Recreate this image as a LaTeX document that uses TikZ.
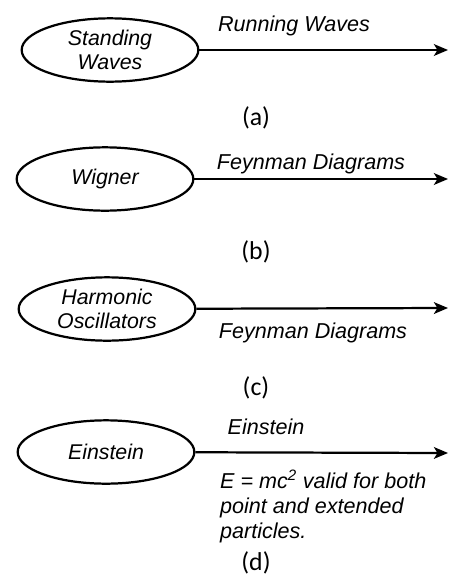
\documentclass[tikz,border=0pt]{standalone}
\usepackage{fontspec}
\newfontfamily\arialfont{Liberation Sans}
\newfontfamily\capfont{Carlito}
\usetikzlibrary{arrows.meta,shapes.geometric}

\begin{document}
\begin{tikzpicture}[
  >={Stealth[length=12pt,width=10pt,inset=3pt]},
  bubble/.style={ellipse,draw=black,line width=1.9pt,minimum width=5.3cm,minimum height=1.9cm,inner sep=0pt,align=center,font=\arialfont\itshape\fontsize{18.2}{20.5}\selectfont},
  link/.style={->,line width=1.9pt,draw=black},
  label/.style={inner sep=0pt,align=left,font=\arialfont\itshape\fontsize{18.4}{21.5}\selectfont},
  caption/.style={inner sep=0pt,font=\capfont\fontsize{22}{24}\selectfont}
]
\useasboundingbox (0,0) rectangle (13.5,-17.34);

% (a)
\node[bubble] (standing) at (3.3,-1.5) {Standing\\Waves};
\coordinate (aEnd) at (13.44,-1.5);
\draw[link] (standing) -- (aEnd);
\node[label] (running) at (8.82,-0.78) {Running Waves};
\node[caption] (capA) at (7.68,-3.54) {(a)};

% (b)
\node[bubble] (wigner) at (3.15,-5.37) {Wigner};
\coordinate (bEnd) at (13.44,-5.37);
\draw[link] (wigner) -- (bEnd);
\node[label] (feynTop) at (9.33,-4.92) {Feynman Diagrams};
\node[caption] (capB) at (7.68,-7.56) {(b)};

% (c)
\node[bubble] (harmonic) at (3.21,-9.27) {Harmonic\\Oscillators};
\coordinate (cEnd) at (13.44,-9.24);
\draw[link] (harmonic) -- (cEnd);
\node[label] (feynBot) at (9.39,-9.99) {Feynman Diagrams};
\node[caption] (capC) at (7.68,-11.64) {(c)};

% (d)
\node[label] (einTop) at (7.98,-12.81) {Einstein};
\node[bubble] (einstein) at (3.18,-13.56) {Einstein};
\coordinate (dEnd) at (13.44,-13.59);
\draw[link] (einstein) -- (dEnd);
\node[label,anchor=north west] (mass) at (6.6,-14.1) {E = mc\textsuperscript{2} valid for both\\point and extended\\particles.};
\node[caption] (capD) at (7.68,-16.89) {(d)};
\end{tikzpicture}
\end{document}
